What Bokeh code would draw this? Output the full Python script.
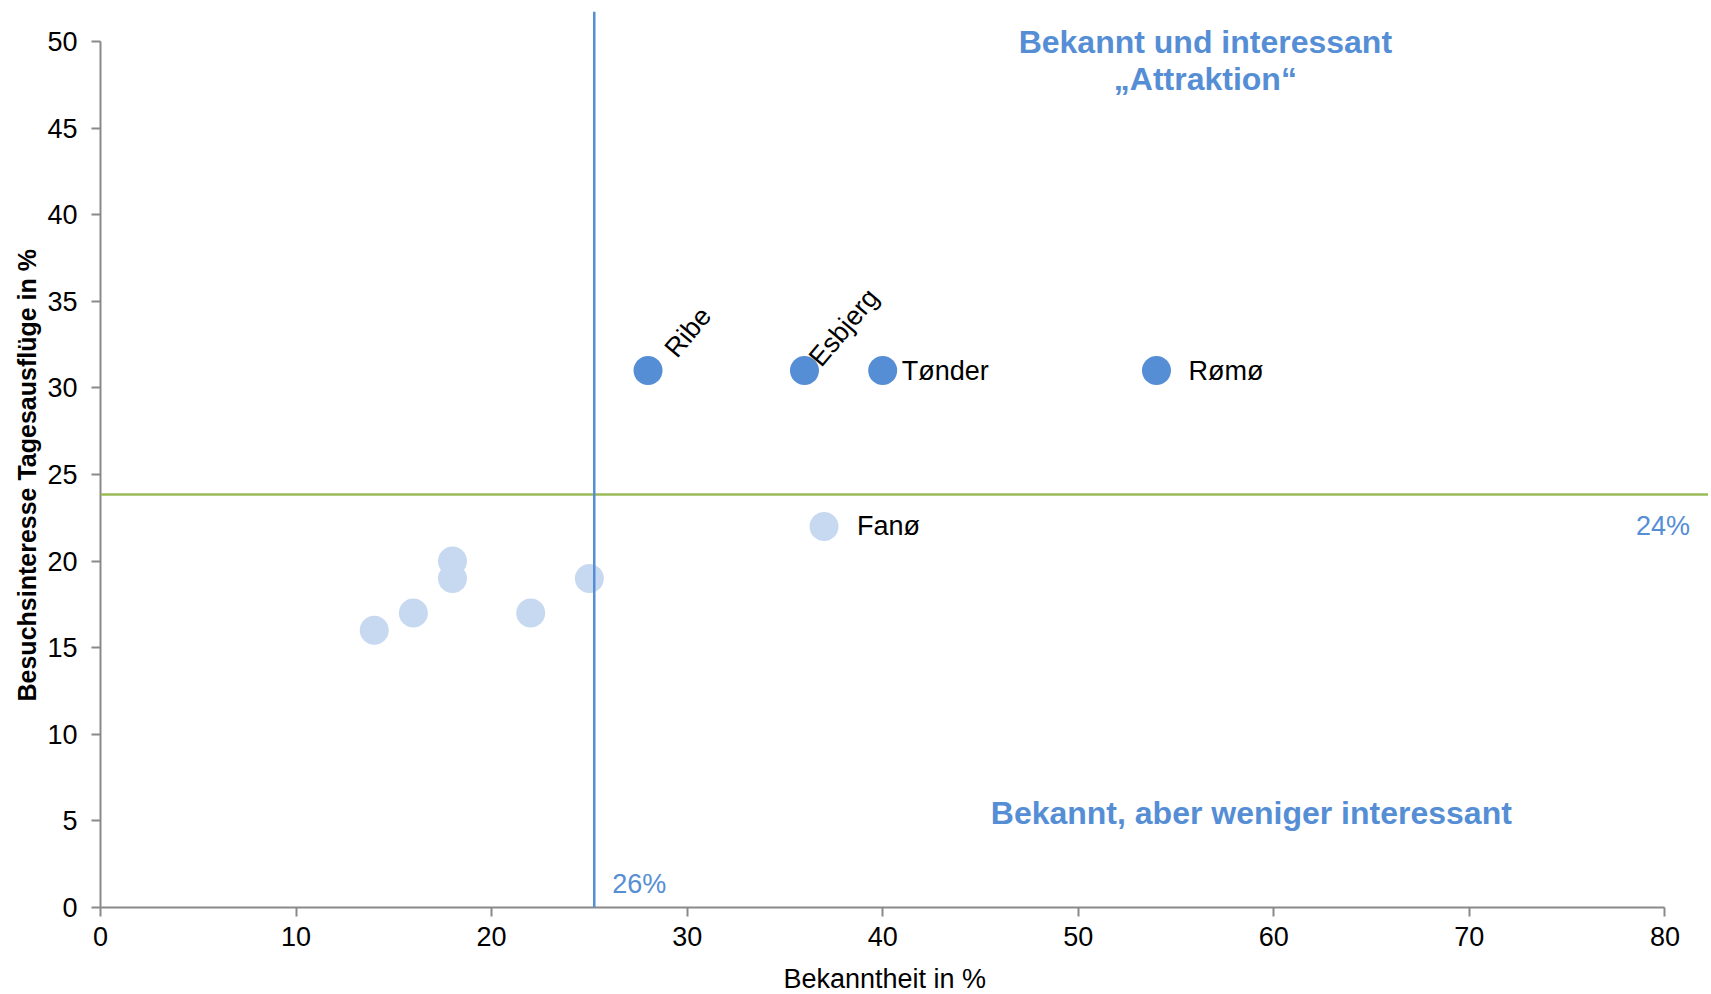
from bokeh.plotting import figure
from bokeh.models import Range1d, FixedTicker, Span, ColumnDataSource, Title
from bokeh.core.properties import value
from bokeh.embed import file_html
from bokeh.resources import INLINE

# ---- data ----
highlight_names = ["Ribe", "Esbjerg", "Tønder", "Rømø"]
highlight_x = [28, 36, 40, 54]
highlight_y = [31, 31, 31, 31]

other_names = ["Fanø", "", "", "", "", "", ""]
other_x = [37, 14, 16, 18, 18, 22, 25]
other_y = [22, 16, 17, 20, 19, 17, 19]

threshold_x = 25.25
threshold_x_label = "26%"
threshold_y = 23.85
threshold_y_label = "24%"

x_ticks = [0, 10, 20, 30, 40, 50, 60, 70, 80]
y_ticks = [0, 5, 10, 15, 20, 25, 30, 35, 40, 45, 50]

quadrant_top = "Bekannt und interessant\n„Attraktion“"
quadrant_bottom = "Bekannt, aber weniger interessant"
x_title = "Bekanntheit in %"
y_title = "Besuchsinteresse Tagesausflüge in %"

# ---- styles ----
FONT = "Liberation Sans"
DARK = "#558ED5"
LIGHT = "#C6D9F1"
GREEN = "#9BBB59"
AXIS = "#898989"

p = figure(frame_width=1608, frame_height=896,
           x_range=Range1d(0, 82.23), y_range=Range1d(0, 51.73),
           output_backend="svg", toolbar_location=None,
           min_border_left=100, min_border_top=11, min_border_right=0,
           min_border_bottom=84)
p.grid.visible = False
p.outline_line_color = None
p.background_fill_color = "white"

for ax, ticks, bnd in ((p.xaxis, x_ticks, (0, 80)), (p.yaxis, y_ticks, (0, 50))):
    ax.ticker = FixedTicker(ticks=ticks)
    ax.bounds = bnd
    ax.axis_line_color = AXIS
    ax.axis_line_width = 2
    ax.major_tick_line_color = AXIS
    ax.major_tick_line_width = 2
    ax.major_tick_in = 0
    ax.major_tick_out = 9
    ax.minor_tick_line_color = None
    ax.major_label_text_font = FONT
    ax.major_label_text_font_size = "27px"
    ax.major_label_text_color = "black"

p.xaxis.major_label_standoff = 10
p.yaxis.major_label_standoff = 14

# axis titles, placed so that they are centred on the axis extent (as in the original)
p.add_layout(Title(text=x_title, align="left", offset=683, vertical_align="top",
                   standoff=30, text_font=FONT, text_font_size="27px",
                   text_font_style="normal", text_color="black"), "below")
p.add_layout(Title(text=y_title, align="left", offset=206, vertical_align="middle",
                   standoff=6, text_font=FONT, text_font_size="25px",
                   text_font_style="bold", text_color="black"), "left")

# threshold lines
p.add_layout(Span(location=threshold_y, dimension="width", line_color=GREEN, line_width=2.5))
p.add_layout(Span(location=threshold_x, dimension="height", line_color=DARK, line_width=2.5))

# points
p.scatter(other_x, other_y, size=29, color=LIGHT, line_color=None)
p.scatter(highlight_x, highlight_y, size=29, color=DARK, line_color=None)

# point labels
hl_src = ColumnDataSource(dict(
    x=highlight_x, y=highlight_y, text=highlight_names,
    angle=[50, 50, 0, 0],
    xo=[22, 10, 19, 32],
    yo=[-17, -8, 0, 0],
    base=["alphabetic", "alphabetic", "middle", "middle"],
))
p.text(x="x", y="y", text="text", angle="angle", angle_units="deg",
       x_offset="xo", y_offset="yo", text_baseline="base", source=hl_src,
       text_align="left", text_font=value(FONT), text_font_size="27px",
       text_color="black")
p.text(x=other_x[:1], y=other_y[:1], text=other_names[:1], x_offset=33,
       text_align="left", text_baseline="middle", text_font=value(FONT),
       text_font_size="27px", text_color="black")

# threshold labels
p.text(x=[79.9], y=[threshold_y - 1.8], text=[threshold_y_label],
       text_align="center", text_baseline="middle", text_font=value(FONT),
       text_font_size="27px", text_color=DARK)
p.text(x=[threshold_x + 2.3], y=[1.33], text=[threshold_x_label],
       text_align="center", text_baseline="middle", text_font=value(FONT),
       text_font_size="27px", text_color=DARK)

# quadrant labels
p.text(x=[56.5], y=[48.9], text=[quadrant_top], text_align="center",
       text_baseline="middle", text_font=value(FONT), text_font_size="32px",
       text_font_style="bold", text_color=DARK, text_line_height=1.05)
p.text(x=[58.85], y=[5.43], text=[quadrant_bottom], text_align="center",
       text_baseline="middle", text_font=value(FONT), text_font_size="32px",
       text_font_style="bold", text_color=DARK)

open("out.html", "w").write(file_html(p, INLINE))
